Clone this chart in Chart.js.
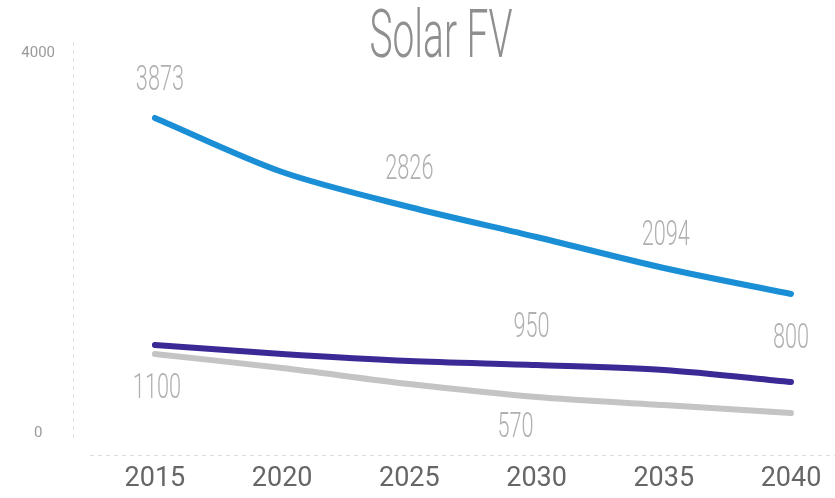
<!DOCTYPE html>
<html>
<head>
<meta charset="utf-8">
<script src="https://cdn.jsdelivr.net/npm/chart.js@4/dist/chart.umd.min.js"></script>
<style>
  html, body { margin: 0; padding: 0; background: #ffffff; }
  #wrap { width: 835px; height: 498px; position: relative; }
</style>
</head>
<body>
<div id="wrap"><canvas id="c"></canvas></div>
<script>
// ---- data ----
const titleText = 'Solar FV';
const years = [2015, 2020, 2025, 2030, 2035, 2040];
const blueSeries   = [3316, 2747, 2379, 2063, 1737, 1463];
const purpleSeries = [926, 832, 758, 716, 663, 537];
const graySeries   = [832, 684, 516, 379, 295, 211];
const yTickValues  = [0, 4000];

// value annotations written on the chart
const noteTexts  = ['3873', '2826', '2094', '1100', '950', '570', '800'];
const noteSeries = [0, 0, 0, 2, 1, 2, 1];
const noteIndex  = [0, 2, 4, 0, 3, 3, 5];

// ---- layout / style (kept apart from data) ----
const noteOffsets = [[5, -37], [0, -37], [2, -32], [2, 35], [-5, -37], [-21, 31], [0, -43]];
const colors = ['#1b8fd6', '#3b2a96', '#c4c4c4'];

const decorPlugin = {
  id: 'decor',
  beforeDatasetsDraw(chart) {
    const ctx = chart.ctx;
    const a = chart.chartArea;
    const ys = chart.scales.y;
    ctx.save();
    ctx.strokeStyle = '#dcdcdc';
    ctx.lineWidth = 1;
    ctx.setLineDash([4, 4]);
    ctx.beginPath();
    ctx.moveTo(a.left + 0.5, ys.getPixelForValue(4000) - 11);
    ctx.lineTo(a.left + 0.5, ys.getPixelForValue(0) + 9);
    ctx.stroke();
    ctx.beginPath();
    ctx.moveTo(a.left + 17, a.bottom - 0.5);
    ctx.lineTo(a.right, a.bottom - 0.5);
    ctx.stroke();
    ctx.restore();
  },
  afterDraw(chart) {
    const ctx = chart.ctx;
    ctx.save();
    // title, thin & condensed
    ctx.fillStyle = '#8f8f8f';
    ctx.font = '300 66px Roboto';
    ctx.textAlign = 'center';
    ctx.textBaseline = 'alphabetic';
    ctx.translate(441, 57);
    ctx.scale(0.59, 1);
    ctx.fillText(titleText, 0, 0);
    ctx.restore();

    // value annotations
    noteTexts.forEach((t, k) => {
      const meta = chart.getDatasetMeta(noteSeries[k]);
      const el = meta.data[noteIndex[k]];
      const off = noteOffsets[k];
      ctx.save();
      ctx.fillStyle = '#b0b0b0';
      ctx.font = '300 35px Roboto';
      ctx.textAlign = 'center';
      ctx.textBaseline = 'middle';
      ctx.translate(el.x + off[0], el.y + off[1]);
      ctx.scale(0.62, 1);
      ctx.fillText(t, 0, 0);
      ctx.restore();
    });
  }
};

const mk = (arr) => arr.map((v, i) => ({ x: years[i], y: v }));

new Chart(document.getElementById('c'), {
  type: 'line',
  data: {
    datasets: [
      { data: mk(blueSeries), borderColor: colors[0] },
      { data: mk(purpleSeries), borderColor: colors[1] },
      { data: mk(graySeries), borderColor: colors[2] }
    ]
  },
  options: {
    responsive: true,
    maintainAspectRatio: false,
    animation: false,
    layout: { padding: { top: 53, right: 0, bottom: 0, left: 0 } },
    elements: {
      line: { borderWidth: 6, tension: 0.3, borderCapStyle: 'round', borderJoinStyle: 'round', fill: false },
      point: { radius: 0, hoverRadius: 0 }
    },
    plugins: { legend: { display: false }, title: { display: false }, tooltip: { enabled: false } },
    scales: {
      x: {
        type: 'linear',
        min: 2011.78,
        max: 2041.73,
        grid: { display: false },
        border: { display: false },
        afterBuildTicks: (s) => { s.ticks = years.map(v => ({ value: v })); },
        afterFit: (s) => { s.height = 42; },
        ticks: {
          autoSkip: false,
          maxRotation: 0,
          padding: -1,
          color: '#666666',
          font: { family: 'Roboto', size: 27, weight: '400' },
          callback: (v) => String(v)
        }
      },
      y: {
        min: -242,
        max: 4000,
        grid: { display: false },
        border: { display: false },
        afterBuildTicks: (s) => { s.ticks = yTickValues.map(v => ({ value: v })); },
        afterFit: (s) => { s.width = 73; },
        ticks: {
          padding: 10,
          crossAlign: 'center',
          color: '#9a9a9a',
          font: { family: 'Roboto', size: 15 },
          callback: (v) => String(v)
        }
      }
    }
  },
  plugins: [decorPlugin]
});
</script>
</body>
</html>
